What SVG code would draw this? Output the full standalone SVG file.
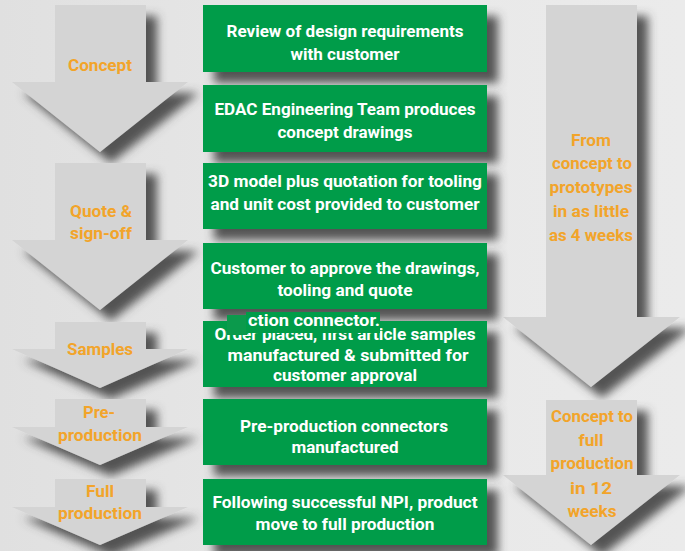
<svg xmlns="http://www.w3.org/2000/svg" width="685" height="551" viewBox="0 0 685 551">
<defs>
<linearGradient id="bg" x1="0" y1="0" x2="1" y2="0">
<stop offset="0" stop-color="#e0e0e0"/>
<stop offset="0.5" stop-color="#e8e8e8"/>
<stop offset="1" stop-color="#ebebeb"/>
</linearGradient>
<filter id="sh" x="-20%" y="-20%" width="150%" height="150%">
<feGaussianBlur in="SourceAlpha" stdDeviation="5"/>
<feOffset dx="11" dy="11" result="b"/>
<feFlood flood-color="#444444" flood-opacity="0.9"/>
<feComposite in2="b" operator="in"/>
<feMerge><feMergeNode/><feMergeNode in="SourceGraphic"/></feMerge>
</filter>
<style>
.arr{fill:#d4d4d4;filter:url(#sh)}
.box{fill:#009c48;filter:url(#sh)}
.wt{font-family:Roboto,"Liberation Sans",sans-serif;font-weight:bold;font-size:17px;fill:#ffffff;text-anchor:middle}
.ot{font-family:Roboto,"Liberation Sans",sans-serif;font-weight:bold;font-size:17px;fill:#f2a42a;text-anchor:middle}
</style>
</defs>
<rect width="685" height="551" fill="url(#bg)"/>

<g id="arrow-concept">
<polygon class="arr" points="55,5 146,5 146,82 188,82 100,152 12,82 55,82"/>
<text class="ot" x="100" y="71" textLength="64" lengthAdjust="spacingAndGlyphs">Concept</text>
</g>
<g id="arrow-quote">
<polygon class="arr" points="55,163 146,163 146,240 188,240 100,310 12,240 55,240"/>
<text class="ot" x="101" y="217" textLength="62" lengthAdjust="spacingAndGlyphs">Quote &amp;</text>
<text class="ot" x="101" y="239" textLength="62" lengthAdjust="spacingAndGlyphs">sign-off</text>
</g>
<g id="arrow-samples">
<polygon class="arr" points="55,322 146,322 146,349 188,349 100,388 12,349 55,349"/>
<text class="ot" x="100" y="355" textLength="66" lengthAdjust="spacingAndGlyphs">Samples</text>
</g>
<g id="arrow-preproduction">
<polygon class="arr" points="55,399 146,399 146,427 188,427 100,465 12,427 55,427"/>
<text class="ot" x="99" y="418" textLength="32" lengthAdjust="spacingAndGlyphs">Pre-</text>
<text class="ot" x="100" y="441" textLength="84" lengthAdjust="spacingAndGlyphs">production</text>
</g>
<g id="arrow-full">
<polygon class="arr" points="55,479 146,479 146,507 188,507 100,545 12,507 55,507"/>
<text class="ot" x="100" y="497" textLength="28" lengthAdjust="spacingAndGlyphs">Full</text>
<text class="ot" x="100" y="519" textLength="84" lengthAdjust="spacingAndGlyphs">production</text>
</g>

<g id="arrow-prototypes">
<polygon class="arr" points="546,5 637,5 637,317 680,317 591,387 503,317 546,317"/>
<text class="ot" x="591" y="146" textLength="40" lengthAdjust="spacingAndGlyphs">From</text>
<text class="ot" x="592" y="169" textLength="80" lengthAdjust="spacingAndGlyphs">concept to</text>
<text class="ot" x="591" y="193" textLength="83" lengthAdjust="spacingAndGlyphs">prototypes</text>
<text class="ot" x="591" y="217" textLength="76" lengthAdjust="spacingAndGlyphs">in as little</text>
<text class="ot" x="591" y="241" textLength="84" lengthAdjust="spacingAndGlyphs">as 4 weeks</text>
</g>
<g id="arrow-fullproduction">
<polygon class="arr" points="546,400 637,400 637,475 680,475 591,545 503,475 546,475"/>
<text class="ot" x="592" y="422" textLength="82" lengthAdjust="spacingAndGlyphs">Concept to</text>
<text class="ot" x="591" y="446" textLength="25" lengthAdjust="spacingAndGlyphs">full</text>
<text class="ot" x="592" y="469" textLength="83" lengthAdjust="spacingAndGlyphs">production</text>
<text class="ot" x="591" y="494" textLength="42" lengthAdjust="spacingAndGlyphs">in 12</text>
<text class="ot" x="592" y="517" textLength="49" lengthAdjust="spacingAndGlyphs">weeks</text>
</g>

<g id="connectors"></g>

<g id="step1">
<rect class="box" x="203" y="5" width="284" height="67"/>
<text class="wt" x="345" y="37" textLength="237" lengthAdjust="spacingAndGlyphs">Review of design requirements</text>
<text class="wt" x="345" y="60" textLength="109" lengthAdjust="spacingAndGlyphs">with customer</text>
</g>
<g id="step2">
<rect class="box" x="203" y="85" width="284" height="67"/>
<text class="wt" x="345" y="115" textLength="261" lengthAdjust="spacingAndGlyphs">EDAC Engineering Team produces</text>
<text class="wt" x="345" y="138" textLength="135" lengthAdjust="spacingAndGlyphs">concept drawings</text>
</g>
<g id="step3">
<rect class="box" x="203" y="163" width="284" height="66"/>
<text class="wt" x="345" y="187" textLength="274" lengthAdjust="spacingAndGlyphs">3D model plus quotation for tooling</text>
<text class="wt" x="345" y="210" textLength="269" lengthAdjust="spacingAndGlyphs">and unit cost provided to customer</text>
</g>
<g id="step4">
<rect class="box" x="203" y="243" width="284" height="66"/>
<text class="wt" x="345" y="274" textLength="269" lengthAdjust="spacingAndGlyphs">Customer to approve the drawings,</text>
<text class="wt" x="345" y="296" textLength="135" lengthAdjust="spacingAndGlyphs">tooling and quote</text>
</g>
<g id="step5">
<rect class="box" x="203" y="321" width="284" height="66"/>
<text class="wt" x="345" y="340" textLength="261" lengthAdjust="spacingAndGlyphs">Order placed, first article samples</text>
<text class="wt" x="348" y="361" textLength="241" lengthAdjust="spacingAndGlyphs">manufactured &amp; submitted for</text>
<text class="wt" x="345" y="381" textLength="144" lengthAdjust="spacingAndGlyphs">customer approval</text>
<rect x="227" y="315" width="20" height="20" fill="#0b9a4c"/>
<rect x="246" y="312" width="134" height="21" fill="#009c48"/>
<text class="wt" x="314" y="326" textLength="132" lengthAdjust="spacingAndGlyphs">ction connector.</text>
</g>
<g id="step6">
<rect class="box" x="203" y="399" width="284" height="66"/>
<text class="wt" x="344" y="432" textLength="208" lengthAdjust="spacingAndGlyphs">Pre-production connectors</text>
<text class="wt" x="345" y="453" textLength="107" lengthAdjust="spacingAndGlyphs">manufactured</text>
</g>
<g id="step7">
<rect class="box" x="203" y="479" width="284" height="66"/>
<text class="wt" x="345" y="508" textLength="265" lengthAdjust="spacingAndGlyphs">Following successful NPI, product</text>
<text class="wt" x="345" y="530" textLength="179" lengthAdjust="spacingAndGlyphs">move to full production</text>
</g>
</svg>
